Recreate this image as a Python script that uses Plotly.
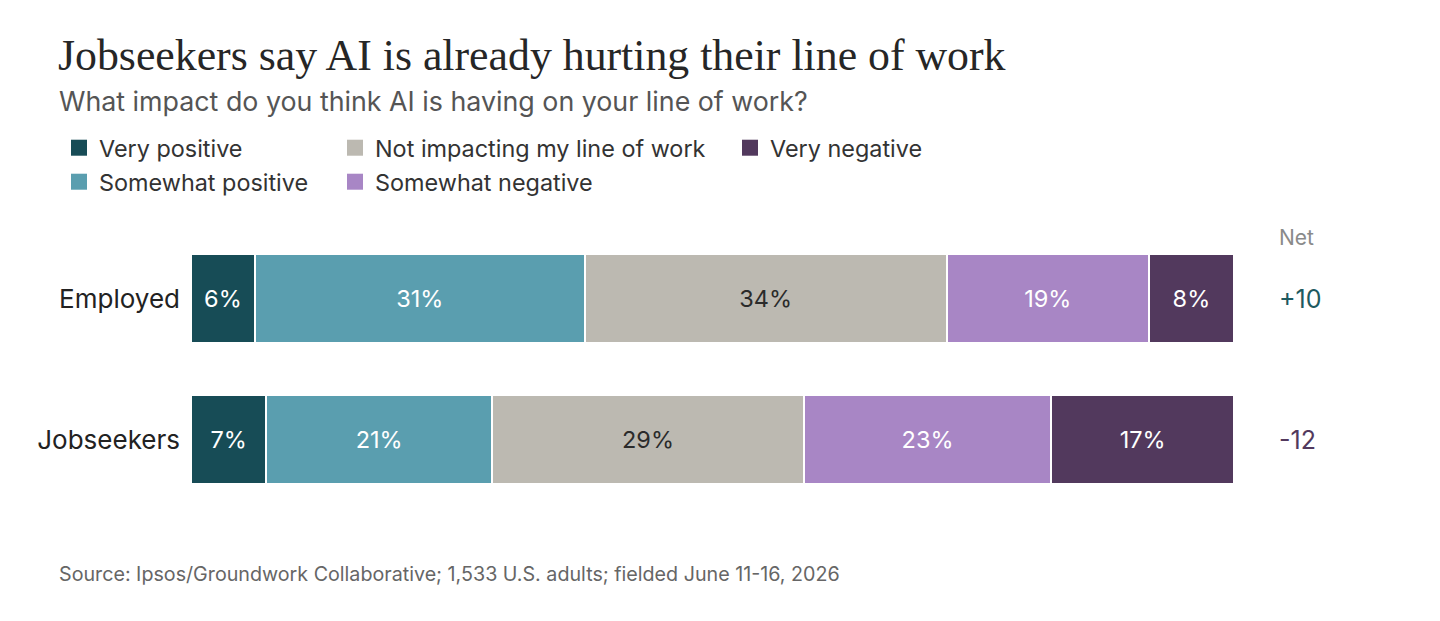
import plotly.graph_objects as go

groups = ["Employed", "Jobseekers"]
categories = ["Very positive", "Somewhat positive", "Not impacting my line of work",
              "Somewhat negative", "Very negative"]
very_positive = [6, 7]
somewhat_positive = [31, 21]
not_impacting = [34, 29]
somewhat_negative = [19, 23]
very_negative = [8, 17]

series = [very_positive, somewhat_positive, not_impacting, somewhat_negative, very_negative]
colors = ["#174C56", "#5A9EAF", "#BCB9B1", "#A886C5", "#52395D"]
text_colors = ["#FFFFFF", "#FFFFFF", "#2B2B2B", "#FFFFFF", "#FFFFFF"]
net_color_pos = "#1E5A60"
net_color_neg = "#52395D"

net = [(very_positive[i] + somewhat_positive[i]) - (somewhat_negative[i] + very_negative[i])
       for i in range(len(groups))]

FONT = "Inter"
fig = go.Figure()

for name, vals, col, tcol in zip(categories, series, colors, text_colors):
    fig.add_trace(go.Bar(
        y=groups, x=vals, orientation="h", name=name,
        marker=dict(color=col, line=dict(color="white", width=2)),
        text=[f"{v}%" for v in vals], textposition="inside",
        insidetextanchor="middle", textangle=0,
        textfont=dict(family=FONT, size=23.5, color=tcol),
        showlegend=False, hoverinfo="skip",
    ))

# legend entries (square swatches), placed in a 3-column grid
legend_slots = {
    "Very positive": "legend",
    "Somewhat positive": "legend2",
    "Not impacting my line of work": "legend3",
    "Somewhat negative": "legend4",
    "Very negative": "legend5",
}
for name, col in zip(categories, colors):
    fig.add_trace(go.Scatter(
        x=[None], y=[None], mode="markers", name=name,
        marker=dict(symbol="square", size=16, color=col),
        legend=legend_slots[name], showlegend=True,
    ))

W, H = 1440, 621
# pixel frame (page has an 8px body margin)
OFF = 8
L, R, T, B = 191 - OFF, 1234 - OFF, 228 - OFF, 510 - OFF
pw, ph = R - L, B - T

def px_x(p):
    return (p - OFF - L) / pw

def px_y(p):
    return (B - (p - OFF)) / ph

leg_font = dict(family=FONT, size=23.4, color="#333333")
def leg(xp, yp):
    return dict(x=px_x(xp), y=px_y(yp), xanchor="left", yanchor="middle",
                font=leg_font, bgcolor="rgba(0,0,0,0)", itemsizing="trace")

annotations = [
    dict(text="Jobseekers say AI is already hurting their line of work",
         x=px_x(56), y=px_y(55), xref="paper", yref="paper", xanchor="left", yanchor="middle",
         showarrow=False, font=dict(family="Liberation Serif", size=43.8, color="#262626")),
    dict(text="What impact do you think AI is having on your line of work?",
         x=px_x(57), y=px_y(101), xref="paper", yref="paper", xanchor="left", yanchor="middle",
         showarrow=False, font=dict(family=FONT, size=26.8, color="#555555")),
    dict(text="Source: Ipsos/Groundwork Collaborative; 1,533 U.S. adults; fielded June 11-16, 2026",
         x=px_x(57), y=px_y(574), xref="paper", yref="paper", xanchor="left", yanchor="middle",
         showarrow=False, font=dict(family=FONT, size=19.7, color="#666666")),
    dict(text="Net", x=px_x(1277), y=px_y(237), xref="paper", yref="paper",
         xanchor="left", yanchor="middle", showarrow=False,
         font=dict(family=FONT, size=21, color="#8A8A8A")),
]
for g, n in zip(groups, net):
    annotations.append(dict(
        text=(f"+{n}" if n > 0 else f"{n}"), x=px_x(1277), y=g, xref="paper", yref="y",
        xanchor="left", yanchor="middle", showarrow=False,
        font=dict(family=FONT, size=25, color=net_color_pos if n > 0 else net_color_neg)))

fig.update_layout(
    width=W, height=H,
    margin=dict(l=L, r=W - R, t=T, b=H - B),
    paper_bgcolor="white", plot_bgcolor="white",
    barmode="stack", barnorm="percent", bargap=0.37,
    xaxis=dict(visible=False, range=[0, 100], fixedrange=True),
    yaxis=dict(categoryorder="array", categoryarray=groups, range=[1.5, -0.5],
               showgrid=False, zeroline=False, showline=False, ticks="",
               ticklabelstandoff=10,
               tickfont=dict(family=FONT, size=26, color="#222222")),
    showlegend=True,
    legend=leg(59, 148),
    legend2=leg(59, 182),
    legend3=leg(335, 148),
    legend4=leg(335, 182),
    legend5=leg(730, 148),
    annotations=annotations,
    uniformtext=dict(minsize=23, mode="show"),
)

fig.write_html("out.html")
